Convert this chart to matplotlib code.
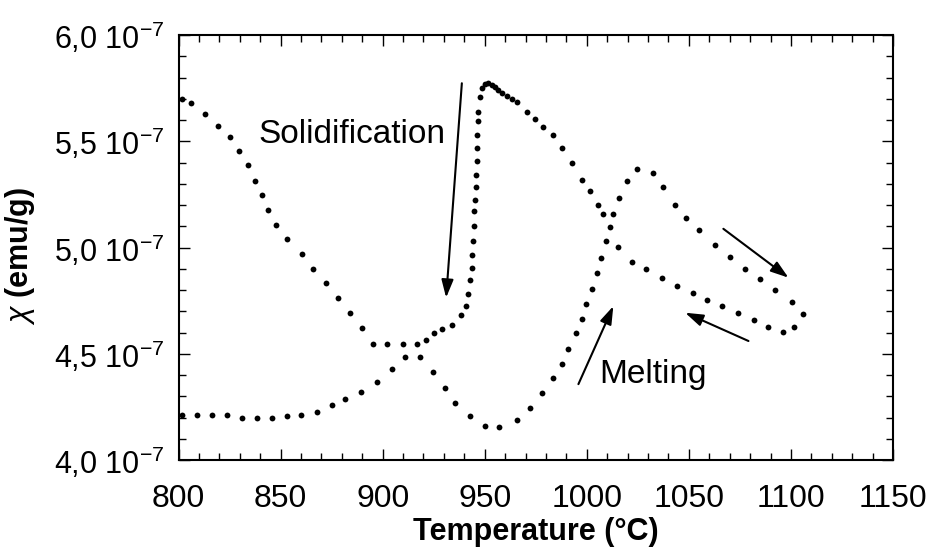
import matplotlib
matplotlib.use("Agg")
import matplotlib.pyplot as plt
from matplotlib.ticker import MultipleLocator, FixedLocator

plt.rcParams['font.family'] = ['Liberation Sans', 'DejaVu Sans']
plt.rcParams['mathtext.fontset'] = 'custom'
plt.rcParams['mathtext.rm'] = 'Liberation Sans'
plt.rcParams['mathtext.it'] = 'Liberation Sans:italic'
plt.rcParams['mathtext.bf'] = 'Liberation Sans:bold'

# Heating run (units: 1e-7 emu/g)
heat_T = [801.7, 808.9, 816.3, 823.6, 831.0, 838.6, 845.7, 853.0, 859.9,
          867.7, 875.1, 881.6, 889.3, 897.4, 904.5, 911.0, 918.3, 924.8,
          930.6, 935.5, 942.8, 950.2, 957.2, 965.7, 972.2, 978.0, 983.6,
          987.8, 991.0, 994.8, 997.5, 999.7, 1002.4, 1005.2, 1007.0, 1009.5,
          1013.0, 1016.0, 1019.6, 1024.8, 1032.6, 1037.5, 1043.3, 1048.7,
          1055.2, 1062.9, 1070.2, 1077.6, 1084.9, 1092.3, 1100.4, 1105.8]
heat_chi = [4.21, 4.21, 4.21, 4.21, 4.20, 4.20, 4.20, 4.205, 4.21,
            4.227, 4.260, 4.286, 4.321, 4.369, 4.427, 4.487, 4.486, 4.412,
            4.341, 4.266, 4.205, 4.161, 4.154, 4.189, 4.244, 4.315, 4.384,
            4.451, 4.524, 4.596, 4.665, 4.736, 4.803, 4.881, 4.952, 5.030,
            5.160, 5.233, 5.311, 5.369, 5.351, 5.285, 5.202, 5.139,
            5.081, 5.014, 4.956, 4.900, 4.850, 4.800, 4.743, 4.685]

# Cooling run (units: 1e-7 emu/g)
cool_T = [1101.6, 1096.0, 1089.0, 1082.0, 1074.3, 1066.1, 1059.1, 1051.9,
          1044.1, 1036.7, 1029.1, 1022.0, 1015.5, 1011.4, 1008.1, 1005.7,
          1001.6, 997.5, 992.6, 987.7, 983.6, 978.7, 974.7, 970.6, 965.7,
          963.2, 960.8, 958.7, 956.7, 955.0, 953.5, 951.8, 950.2,
          948.5, 947.7, 946.9, 946.9, 946.4, 946.4, 946.1, 945.8, 945.6,
          945.3, 944.9, 944.8, 944.4, 944.0, 943.6, 942.8, 942.0, 940.9,
          938.4, 933.9, 929.0, 925.2, 921.1, 916.7, 909.9, 902.0, 895.4,
          889.8, 884.0, 878.3, 872.1, 866.0, 860.4, 853.3, 847.8, 843.9,
          840.8, 837.5, 833.9, 829.8, 825.2, 819.5, 813.0, 806.0, 801.5]
cool_chi = [4.626, 4.602, 4.626, 4.659, 4.690, 4.724, 4.751, 4.784,
            4.818, 4.858, 4.897, 4.931, 5.003, 5.097, 5.160, 5.202,
            5.264, 5.319, 5.398, 5.468, 5.531, 5.569, 5.604, 5.640, 5.687,
            5.700, 5.714, 5.728, 5.742, 5.755, 5.765, 5.776, 5.768,
            5.750, 5.710, 5.640, 5.593, 5.531, 5.468, 5.405, 5.343, 5.285,
            5.225, 5.170, 5.103, 5.030, 4.967, 4.905, 4.847, 4.779, 4.724,
            4.681, 4.635, 4.615, 4.596, 4.565, 4.545, 4.545, 4.545, 4.548,
            4.620, 4.690, 4.761, 4.831, 4.900, 4.970, 5.041, 5.108, 5.175,
            5.249, 5.315, 5.390, 5.452, 5.518, 5.574, 5.629, 5.679, 5.700]

x_ticks = [800, 850, 900, 950, 1000, 1050, 1100, 1150]
y_ticks = [4.0, 4.5, 5.0, 5.5, 6.0]
y_tick_labels = [r"4,0 10$^{-7}$", r"4,5 10$^{-7}$", r"5,0 10$^{-7}$",
                 r"5,5 10$^{-7}$", r"6,0 10$^{-7}$"]

fig = plt.figure(figsize=(9.33, 5.48), dpi=100)
ax = fig.add_axes([178.5 / 933, 1 - 460 / 548, (893 - 178.5) / 933, 425 / 548])

ax.plot(heat_T, heat_chi, linestyle='none', marker='o', ms=4.2, color='black', mew=0)
ax.plot(cool_T, cool_chi, linestyle='none', marker='o', ms=4.2, color='black', mew=0)

ax.set_xlim(800, 1150)
ax.set_ylim(4.0, 6.0)
ax.xaxis.set_major_locator(FixedLocator(x_ticks))
ax.xaxis.set_minor_locator(MultipleLocator(10))
ax.yaxis.set_major_locator(FixedLocator(y_ticks))
ax.set_yticklabels(y_tick_labels)
ax.yaxis.set_minor_locator(MultipleLocator(0.1))

ax.tick_params(which='both', direction='in', top=True, right=True, width=1.0)
ax.tick_params(which='major', length=8)
ax.tick_params(which='minor', length=5)
ax.tick_params(axis='x', which='major', labelsize=23, pad=17)
ax.tick_params(axis='y', which='major', labelsize=22, pad=10)
for s in ax.spines.values():
    s.set_linewidth(1.5)

ax.set_xlabel("Temperature (°C)", fontsize=22, fontweight='bold')
ax.xaxis.set_label_coords(0.5, -0.133)
ax.set_ylabel(r"$\chi$ (emu/g)", fontsize=22, fontweight='bold')
ax.yaxis.set_label_coords(-0.198, 0.48)

arrow_kw = dict(arrowstyle='-|>,head_length=0.6,head_width=0.2', color='black',
                lw=1.5, shrinkA=0, shrinkB=0, mutation_scale=18)
ax.annotate("", xy=(931.1, 4.764), xytext=(938.8, 5.773), arrowprops=arrow_kw)
ax.annotate("", xy=(1013.0, 4.724), xytext=(995.9, 4.357), arrowprops=arrow_kw)
ax.annotate("", xy=(1048.2, 4.693), xytext=(1079.2, 4.560), arrowprops=arrow_kw)
ax.annotate("", xy=(1098.8, 4.858), xytext=(1066.9, 5.088), arrowprops=arrow_kw)

ax.text(884.9, 5.531, "Solidification", fontsize=24, ha='center', va='center')
ax.text(1032.5, 4.404, "Melting", fontsize=24, ha='center', va='center')

fig.savefig("out.png", dpi=100, facecolor='white')
